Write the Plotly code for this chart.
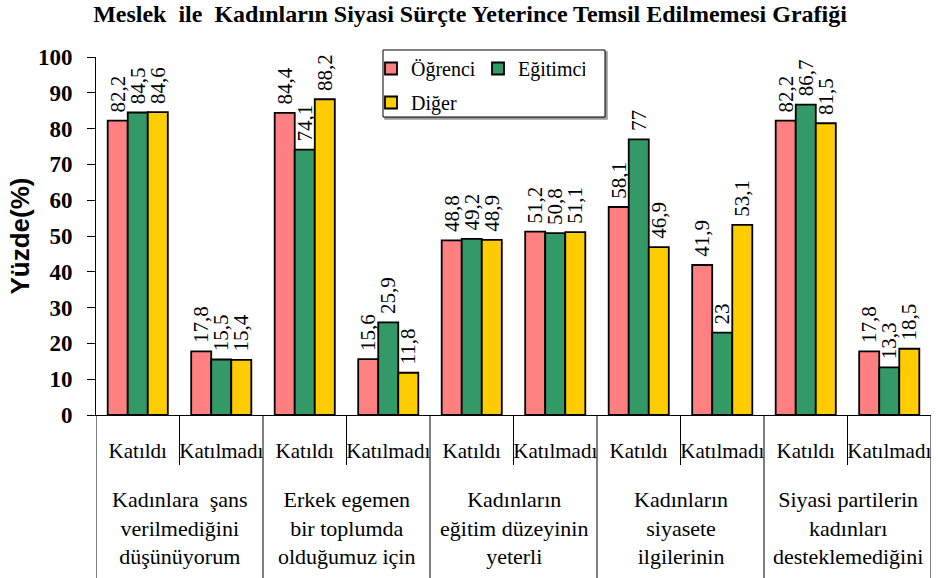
import plotly.graph_objects as go

title = "Meslek  ile  Kadınların Siyasi Sürçte Yeterince Temsil Edilmemesi Grafiği"
answers = ["Katıldı", "Katılmadı"] * 5
groups = [
    "Kadınlara  şans<br>verilmediğini<br>düşünüyorum",
    "Erkek egemen<br>bir toplumda<br>olduğumuz için",
    "Kadınların<br>eğitim düzeyinin<br>yeterli",
    "Kadınların<br>siyasete<br>ilgilerinin",
    "Siyasi partilerin<br>kadınları<br>desteklemediğini",
]
ogrenci = [82.2, 17.8, 84.4, 15.6, 48.8, 51.2, 58.1, 41.9, 82.2, 17.8]
egitimci = [84.5, 15.5, 74.1, 25.9, 49.2, 50.8, 77, 23, 86.7, 13.3]
diger = [84.6, 15.4, 88.2, 11.8, 48.9, 51.1, 46.9, 53.1, 81.5, 18.5]
series_names = ["Öğrenci", "Eğitimci", "Diğer"]
colors = ["#FF8080", "#339966", "#FFCC00"]
yticks = list(range(0, 101, 10))

serif = "Liberation Serif"
sans = "Liberation Sans"

x_idx = list(range(len(answers)))

def fmt(v):
    s = ("%g" % v).replace(".", ",")
    return " " + s

fig = go.Figure()
for name, vals, col, leg in zip(series_names, [ogrenci, egitimci, diger], colors,
                                ["legend", "legend", "legend2"]):
    fig.add_trace(go.Bar(
        x=x_idx, y=vals, name=name, legend=leg,
        marker=dict(color=col, line=dict(color="black", width=1.8)),
        text=[fmt(v) for v in vals], textposition="outside", textangle=-90,
        textfont=dict(family=serif, size=21, color="black"),
        constraintext="none", cliponaxis=False,
    ))

W, H = 938, 578
L, R, T, B = 96, 7, 57, 163
pw, ph = W - L - R, H - T - B

def px_x(p):
    return (p - L) / pw

def px_y(p):
    return (H - B - p) / ph

shapes = []
shapes.append(dict(type="rect", xref="paper", yref="paper",
                   x0=px_x(385), x1=px_x(607), y0=px_y(119), y1=px_y(52),
                   line=dict(color="#999999", width=1.5), fillcolor="#999999", layer="below"))
shapes.append(dict(type="rect", xref="paper", yref="paper",
                   x0=px_x(383), x1=px_x(605), y0=px_y(117), y1=px_y(50),
                   line=dict(color="black", width=1), fillcolor="white", layer="below"))
n = len(answers)
for i in range(n + 1):
    b = i - 0.5
    long_line = (i % 2 == 0)
    shapes.append(dict(type="line", xref="x", yref="paper", x0=b, x1=b,
                       y0=0, y1=px_y(578) if long_line else px_y(465),
                       line=dict(color="black", width=1)))

annotations = []
for g, lab in enumerate(groups):
    annotations.append(dict(x=2 * g + 0.5, xref="x", y=px_y(485), yref="paper",
                            yanchor="top", xanchor="center", text=lab, showarrow=False,
                            font=dict(family=serif, size=22, color="black")))

fig.update_layout(
    width=W, height=H,
    margin=dict(l=L, r=R, t=T, b=B, autoexpand=False),
    paper_bgcolor="white", plot_bgcolor="white",
    barmode="group", bargap=0.28, bargroupgap=0,
    title=dict(text="<b>" + title + "</b>", x=470 / W, xanchor="center",
               y=1 - 14 / H, yanchor="middle", automargin=False,
               font=dict(family=serif, size=24, color="black")),
    xaxis=dict(range=[-0.5, n - 0.5], tickmode="array", tickvals=x_idx, ticktext=answers,
               ticks="", showline=True, linecolor="black", linewidth=1, automargin=False,
               showgrid=False, zeroline=False, ticklabelstandoff=17,
               tickfont=dict(family=serif, size=21, color="black")),
    yaxis=dict(range=[0, 100], tickmode="array", tickvals=yticks, automargin=False,
               ticks="outside", ticklen=8, tickcolor="black", showline=True,
               linecolor="black", linewidth=1, showgrid=False, zeroline=False,
               tickfont=dict(family=serif, size=23, color="black", weight="bold"),
               ticklabelstandoff=10,
               title=dict(text="<b>Yüzde(%)</b>", font=dict(family=sans, size=26, color="black"),
                          standoff=0)),
    legend=dict(orientation="h", x=px_x(371), y=px_y(49), xanchor="left", yanchor="top",
                bgcolor="rgba(0,0,0,0)", borderwidth=0,
                font=dict(family=serif, size=20, color="black"),
                entrywidth=62, entrywidthmode="pixels", itemwidth=30),
    legend2=dict(orientation="h", x=px_x(371), y=px_y(83), xanchor="left", yanchor="top",
                 bgcolor="rgba(0,0,0,0)", borderwidth=0,
                 font=dict(family=serif, size=20, color="black"), itemwidth=30),
    shapes=shapes, annotations=annotations,
    showlegend=True,
)

fig.write_html("out.html", config={"displayModeBar": False},
               post_script="document.body.style.margin='0';document.body.style.overflow='hidden';")
